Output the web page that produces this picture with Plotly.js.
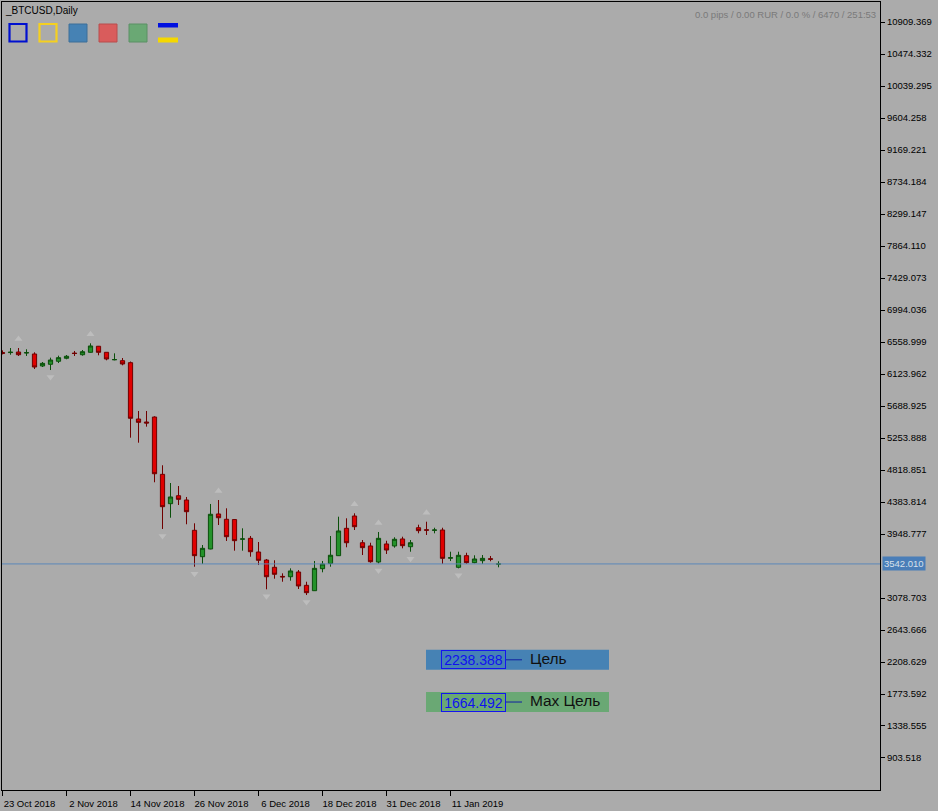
<!DOCTYPE html>
<html><head><meta charset="utf-8">
<script src="https://cdn.plot.ly/plotly-3.0.1.min.js"></script>
<style>html,body{margin:0;padding:0;background:#ABABAB;}#chart{width:938px;height:811px;}</style>
</head><body><div id="chart"></div>
<script>
// ---- data ----
const dates = ["2018-10-23","2018-10-24","2018-10-25","2018-10-26","2018-10-29","2018-10-30","2018-10-31",
"2018-11-01","2018-11-02","2018-11-05","2018-11-06","2018-11-07","2018-11-08","2018-11-09","2018-11-12","2018-11-13","2018-11-14",
"2018-11-15","2018-11-16","2018-11-19","2018-11-20","2018-11-21","2018-11-22","2018-11-23","2018-11-26","2018-11-27","2018-11-28",
"2018-11-29","2018-11-30","2018-12-03","2018-12-04","2018-12-05","2018-12-06","2018-12-07","2018-12-10","2018-12-11","2018-12-12",
"2018-12-13","2018-12-14","2018-12-17","2018-12-18","2018-12-19","2018-12-20","2018-12-21","2018-12-24","2018-12-26","2018-12-27",
"2018-12-28","2018-12-31","2019-01-02","2019-01-03","2019-01-04","2019-01-07","2019-01-08","2019-01-09","2019-01-10","2019-01-11",
"2019-01-14","2019-01-15","2019-01-16","2019-01-17","2019-01-18","2019-01-21"];
const opens  = [6415,6415,6423,6410,6396,6233,6256,6297,6338,6408,6386,6419,6501,6419,6318,6305,6278,5512,5471,5539,4760,4361,4469,4411,3999,3640,3745,4221,4149,4145,3878,3890,3704,3595,3496,3372,3368,3432,3251,3178,3477,3548,3654,4026,4193,3830,3786,3568,3813,3786,3881,3776,4034,4006,3999,4003,3620,3496,3654,3559,3586,3612,3540];
const highs  = [6445,6477,6477,6460,6419,6287,6346,6373,6382,6437,6450,6541,6505,6419,6405,6341,6294,5621,5621,5549,4883,4642,4601,4452,4094,3799,4357,4411,4298,4150,4026,3922,3840,3609,3591,3414,3482,3459,3300,3582,3582,3922,4184,4162,4230,3867,3830,3976,3857,3904,3912,3867,4075,4116,4034,4034,3708,3708,3694,3659,3663,3650,3578];
const lows   = [6390,6386,6369,6369,6192,6219,6178,6273,6324,6369,6373,6414,6378,6310,6310,6242,5258,5190,5408,4652,4017,4170,4343,4081,3504,3541,3741,4071,3854,3722,3722,3640,3527,3197,3341,3300,3314,3201,3119,3175,3428,3504,3650,3768,4003,3663,3559,3548,3677,3763,3754,3708,3958,3935,3958,3541,3581,3482,3541,3550,3541,3578,3496];
const closes = [6405,6420,6386,6414,6219,6269,6314,6346,6365,6403,6427,6505,6419,6328,6320,6260,5522,5467,5458,4768,4320,4452,4420,4252,3654,3754,4217,4170,3912,3858,3882,3708,3591,3368,3401,3366,3446,3242,3151,3482,3541,3660,3990,3830,4048,3763,3572,3890,3731,3877,3790,3830,3994,4001,4003,3618,3626,3659,3559,3609,3618,3606,3542.01];
const xTickDates  = ["2018-10-23","2018-11-02","2018-11-14","2018-11-26","2018-12-06","2018-12-18","2018-12-31","2019-01-11"];
const xTickLabels = ["23 Oct 2018","2 Nov 2018","14 Nov 2018","26 Nov 2018","6 Dec 2018","18 Dec 2018","31 Dec 2018","11 Jan 2019"];
const yTick0 = 903.518, yTickStep = 435.037, yTickCount = 24;
const upFractals = [2, 11, 27, 44, 47, 53];
const downFractals = [6, 20, 24, 33, 38, 47, 51, 57];
const currentPrice = 3542.010;
const targetValues = [2238.388, 1664.492];
const targetLabels = ["Цель", "Max Цель"];
const symbolName = "_BTCUSD,Daily";
const infoText = "0.0 pips / 0.00 RUR / 0.0 % / 6470 / 251:53";

// ---- layout geometry ----
const W = 938, H = 811, mL = 2, mR = 58, mT = 2, mB = 21;
const plotW = W - mL - mR, plotH = H - mT - mB;
const barPx = 8;
const xr0 = -0.0625, xr1 = xr0 + plotW / barPx;
const yMin = 468.4, yMax = 11181.3;
const upp = (yMax - yMin) / plotH; // units per pixel
const pxToIdx = px => xr0 + (px - mL) / barPx;
const pxX = px => (px - mL) / plotW;
const pxY = py => (H - mB - py) / plotH;

// y ticks: the label hidden under the current-price tag is not shown
const yTickVals = [];
for (let k = 0; k < yTickCount; k++) {
  const v = yTick0 + k * yTickStep;
  if (Math.abs(v - currentPrice) / upp > 8) yTickVals.push(v);
}

const candle = {
  type: 'candlestick', x: dates, open: opens, high: highs, low: lows, close: closes,
  increasing: {line: {color: '#0B4F0B', width: 1}, fillcolor: '#24922A'},
  decreasing: {line: {color: '#700000', width: 1}, fillcolor: '#E00000'},
  whiskerwidth: 0, hoverinfo: 'skip', showlegend: false
};
const upTrace = {
  type: 'scatter', mode: 'markers', x: upFractals.map(i => dates[i]),
  y: upFractals.map(i => highs[i] + 9 * upp),
  marker: {symbol: 'triangle-up', size: 7, color: 'rgba(192,192,192,0.85)'},
  hoverinfo: 'skip', showlegend: false
};
const dnTrace = {
  type: 'scatter', mode: 'markers', x: downFractals.map(i => dates[i]),
  y: downFractals.map(i => lows[i] - 7 * upp),
  marker: {symbol: 'triangle-down', size: 7, color: 'rgba(192,192,192,0.85)'},
  hoverinfo: 'skip', showlegend: false
};

const shapes = [];
const annotations = [];
shapes.push({type: 'line', xref: 'paper', x0: 0, x1: 1, yref: 'y', y0: currentPrice, y1: currentPrice,
  line: {color: '#5B88B8', width: 1}});
const targetFill = ['#4682B4', '#6AA874'];
targetValues.forEach((v, k) => {
  shapes.push({type: 'rect', xref: 'x', yref: 'y', x0: pxToIdx(426), x1: pxToIdx(609),
    y0: v - 10 * upp, y1: v + 10 * upp, fillcolor: targetFill[k], line: {width: 0}, layer: 'below'});
  shapes.push({type: 'line', xref: 'x', yref: 'y', x0: pxToIdx(506), x1: pxToIdx(522), y0: v, y1: v,
    line: {color: '#1020A0', width: 1}});
  annotations.push({xref: 'x', yref: 'y', x: pxToIdx(441), y: v, xanchor: 'left', yanchor: 'middle',
    text: v.toFixed(3), showarrow: false, font: {family: 'Liberation Sans, Arial', size: 14, color: '#1010F0'},
    bordercolor: '#1414F0', borderwidth: 1, borderpad: 0, width: 63, height: 17, align: 'center'});
  annotations.push({xref: 'x', yref: 'y', x: pxToIdx(528), y: v + 1.5 * upp, xanchor: 'left', yanchor: 'middle',
    text: targetLabels[k], showarrow: false, font: {family: 'Liberation Sans, Arial', size: 15.5, color: '#101010'}});
});
const icon = (x0, y0, x1, y1, fill, lineColor, lw) => shapes.push({type: 'rect', xref: 'paper', yref: 'paper',
  x0: pxX(x0), x1: pxX(x1), y0: pxY(y1), y1: pxY(y0), fillcolor: fill, line: {color: lineColor, width: lw}});
icon(9.5, 24, 26.5, 41.5, 'rgba(0,0,0,0)', '#0010D0', 2.2);
icon(39.5, 24, 56.5, 41.5, 'rgba(0,0,0,0)', '#F5D020', 2.2);
icon(69, 24, 87, 42, '#4682B4', '#3C6E98', 1);
icon(99, 24, 117, 42, '#D95C5C', '#B84C4C', 1);
icon(129, 24, 147, 42, '#6AA874', '#5A9064', 1);
icon(158, 23, 178, 27.5, '#0010E0', '#0010E0', 0);
icon(158, 37.5, 178, 42.5, '#F5D800', '#D8C000', 0);

annotations.push({xref: 'paper', yref: 'paper', x: pxX(3), y: pxY(10), xanchor: 'left', yanchor: 'middle',
  text: symbolName, showarrow: false, font: {family: 'Liberation Sans, Arial', size: 10, color: '#000000'}});
annotations.push({xref: 'paper', yref: 'paper', x: pxX(878), y: pxY(15), xanchor: 'right', yanchor: 'middle',
  text: infoText, showarrow: false, font: {family: 'Liberation Sans, Arial', size: 9.5, color: '#7A7A7A'}});
annotations.push({xref: 'paper', yref: 'y', x: 1, xshift: 2, y: currentPrice, xanchor: 'left', yanchor: 'middle',
  text: currentPrice.toFixed(3), showarrow: false, bgcolor: '#4A7EB8', borderpad: 1,
  font: {family: 'Liberation Sans, Arial', size: 9.5, color: '#D8E0EA'}});

const layout = {
  width: W, height: H, margin: {l: mL, r: mR, t: mT, b: mB, pad: 0},
  paper_bgcolor: '#ABABAB', plot_bgcolor: '#ABABAB', boxgap: 0.25,
  font: {family: 'Liberation Sans, Arial', size: 9.5, color: '#000000'},
  xaxis: {type: 'category', range: [xr0, xr1], rangeslider: {visible: false}, showgrid: false, zeroline: false,
    showline: true, mirror: true, linecolor: '#000000', linewidth: 1,
    tickmode: 'array', tickvals: xTickDates, ticktext: xTickLabels, ticks: 'outside', ticklen: 5,
    tickcolor: '#000000', ticklabelshift: 27, tickfont: {size: 9.5, color: '#000000'}, fixedrange: true},
  yaxis: {side: 'right', range: [yMin, yMax], showgrid: false, zeroline: false, showline: true, mirror: true,
    linecolor: '#000000', linewidth: 1, tickmode: 'array', tickvals: yTickVals,
    ticktext: yTickVals.map(v => v.toFixed(3)),
    ticks: 'outside', ticklen: 4, tickcolor: '#000000', tickfont: {size: 9.5, color: '#000000'}, fixedrange: true},
  shapes: shapes, annotations: annotations, showlegend: false, hovermode: false
};
Plotly.newPlot('chart', [candle, upTrace, dnTrace], layout, {staticPlot: true, displayModeBar: false});
</script></body></html>
